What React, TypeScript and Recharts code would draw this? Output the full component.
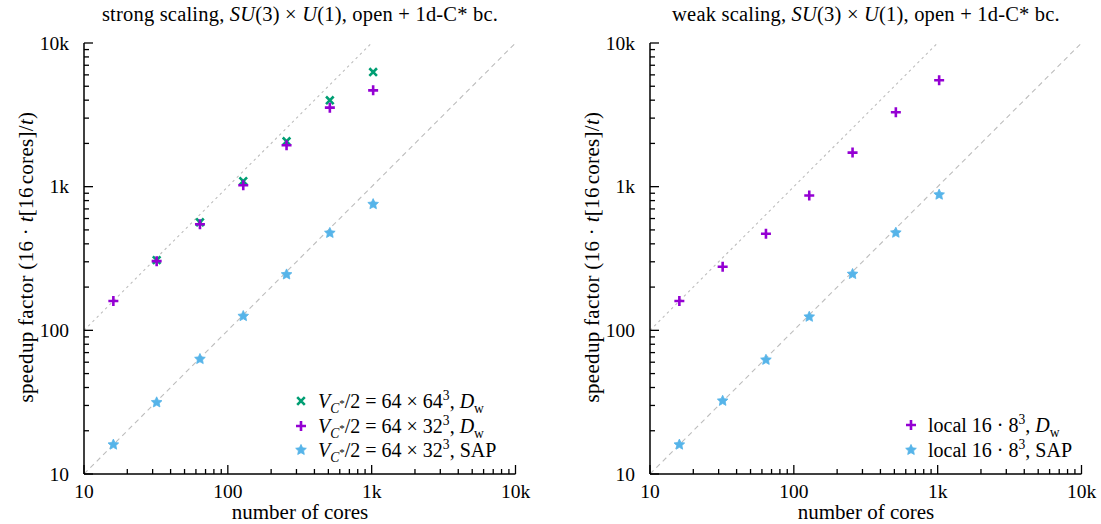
import React from 'react';
import { ScatterChart, Scatter, XAxis, YAxis, ReferenceLine } from 'recharts';

// ---------- data ----------
const cores = [16, 32, 64, 128, 256, 512, 1024];
const strongCores64 = [32, 64, 128, 256, 512, 1024];
const strongDw64 = [308, 565, 1091, 2069, 3990, 6280];
const strongDw32 = [160, 303, 548, 1023, 1940, 3548, 4680];
const strongSap32 = [16, 31.5, 63.1, 125.6, 244.7, 476, 755];
const weakDw = [160, 277, 470, 869, 1726, 3295, 5505];
const weakSap = [16, 32.3, 62.3, 124.2, 246.4, 477.6, 879];

const majorTicks = [10, 100, 1000, 10000];
const majorLabels = ['10', '100', '1k', '10k'];
const minorMultipliers = [2, 3, 4, 5, 6, 7, 8, 9];
const idealLowerX = [10, 10000];
const idealLowerY = [10, 10000];
const idealUpperX = [10, 1000];
const idealUpperY = [100, 10000];

const allTicks: number[] = [];
majorTicks.forEach((m, i) => {
  allTicks.push(m);
  if (i < majorTicks.length - 1) minorMultipliers.forEach((k) => allTicks.push(m * k));
});

const toPoints = (xs: number[], ys: number[]) => xs.map((x, i) => ({ x, y: ys[i] }));

// ---------- style ----------
const FONT = '"Liberation Serif", "DejaVu Serif", serif';
const GREEN = '#009e73';
const PURPLE = '#9400d3';
const CYAN = '#56b4e9';
const GRAY = '#bdbdbd';
const TICK_FS = 19.5;

const isMajor = (v: number) => majorTicks.indexOf(v);

const BottomTick = (p: any) => {
  const { x, y, payload } = p;
  const idx = isMajor(payload.value);
  const len = idx >= 0 ? 9 : 5;
  return (
    <g>
      <line x1={x} y1={y} x2={x} y2={y - len} stroke="#000" strokeWidth={1.3} />
      {idx >= 0 && (
        <text x={x} y={y + 24} textAnchor="middle" fontSize={TICK_FS} fontFamily={FONT} fill="#000">
          {majorLabels[idx]}
        </text>
      )}
    </g>
  );
};
const TopTick = (p: any) => {
  const { x, y, payload } = p;
  const len = isMajor(payload.value) >= 0 ? 9 : 5;
  return <line x1={x} y1={y} x2={x} y2={y + len} stroke="#000" strokeWidth={1.3} />;
};
const LeftTick = (p: any) => {
  const { x, y, payload } = p;
  const idx = isMajor(payload.value);
  const len = idx >= 0 ? 9 : 5;
  return (
    <g>
      <line x1={x} y1={y} x2={x + len} y2={y} stroke="#000" strokeWidth={1.3} />
      {idx >= 0 && (
        <text x={x - 15} y={y} dy="0.35em" textAnchor="end" fontSize={TICK_FS} fontFamily={FONT} fill="#000">
          {majorLabels[idx]}
        </text>
      )}
    </g>
  );
};
const RightTick = (p: any) => {
  const { x, y, payload } = p;
  const len = isMajor(payload.value) >= 0 ? 9 : 5;
  return <line x1={x} y1={y} x2={x - len} y2={y} stroke="#000" strokeWidth={1.3} />;
};

const PlusShape = (p: any) => {
  const { cx, cy } = p;
  return (
    <path d={`M${cx - 5},${cy}H${cx + 5}M${cx},${cy - 5}V${cy + 5}`} stroke={PURPLE} strokeWidth={2.6} fill="none" />
  );
};
const XShape = (p: any) => {
  const { cx, cy } = p;
  const r = 3.8;
  return (
    <path
      d={`M${cx - r},${cy - r}L${cx + r},${cy + r}M${cx - r},${cy + r}L${cx + r},${cy - r}`}
      stroke={GREEN}
      strokeWidth={2.6}
      fill="none"
    />
  );
};
const starPath = (cx: number, cy: number) => {
  const ro = 5.6;
  const ri = 2.7;
  let d = '';
  for (let i = 0; i < 10; i++) {
    const a = -Math.PI / 2 + (i * Math.PI) / 5;
    const r = i % 2 === 0 ? ro : ri;
    d += (i === 0 ? 'M' : 'L') + (cx + r * Math.cos(a)).toFixed(2) + ',' + (cy + r * Math.sin(a)).toFixed(2);
  }
  return d + 'Z';
};
const StarShape = (p: any) => <path d={starPath(p.cx, p.cy)} fill={CYAN} stroke={CYAN} strokeWidth={0.8} />;

const legendIcon = (kind: string) => {
  const s = kind === 'x' ? <XShape cx={8} cy={8} /> : kind === 'plus' ? <PlusShape cx={8} cy={8} /> : <StarShape cx={8} cy={8} />;
  return (
    <svg width={16} height={16} style={{ display: 'block' }}>
      {s}
    </svg>
  );
};

const supS: React.CSSProperties = { fontSize: '0.68em', verticalAlign: 'super', lineHeight: 0 };
const subS: React.CSSProperties = { fontSize: '0.68em', verticalAlign: 'sub', lineHeight: 0 };

type Series = { pts: { x: number; y: number }[]; shape: any; name: string };

const Panel = ({ series, left }: { series: Series[]; left: number }) => (
  <div style={{ position: 'absolute', left, top: 0 }}>
    <ScatterChart width={560} height={524} margin={{ top: 43, right: 44.5, bottom: 0, left: 0 }}>
      <XAxis
        dataKey="x"
        type="number"
        scale="log"
        domain={[10, 10000]}
        allowDataOverflow
        ticks={allTicks}
        interval={0}
        tickSize={0}
        tickMargin={0}
        tickLine={false}
        tick={<BottomTick />}
        axisLine={{ stroke: '#000', strokeWidth: 1.5 }}
        height={50}
      />
      <XAxis
        xAxisId="top"
        orientation="top"
        dataKey="x"
        type="number"
        scale="log"
        domain={[10, 10000]}
        allowDataOverflow
        ticks={allTicks}
        interval={0}
        tickSize={0}
        tickMargin={0}
        tickLine={false}
        tick={<TopTick />}
        axisLine={{ stroke: '#000', strokeWidth: 1.5 }}
        height={0}
      />
      <YAxis
        dataKey="y"
        type="number"
        scale="log"
        domain={[10, 10000]}
        allowDataOverflow
        ticks={allTicks}
        interval={0}
        tickSize={0}
        tickMargin={0}
        tickLine={false}
        tick={<LeftTick />}
        axisLine={{ stroke: '#000', strokeWidth: 1.5 }}
        width={84}
      />
      <YAxis
        yAxisId="right"
        orientation="right"
        dataKey="y"
        type="number"
        scale="log"
        domain={[10, 10000]}
        allowDataOverflow
        ticks={allTicks}
        interval={0}
        tickSize={0}
        tickMargin={0}
        tickLine={false}
        tick={<RightTick />}
        axisLine={{ stroke: '#000', strokeWidth: 1.5 }}
        width={0}
      />
      <ReferenceLine
        segment={toPoints(idealUpperX, idealUpperY)}
        stroke={GRAY}
        strokeWidth={1.1}
        strokeDasharray="2.5 3.5"
        ifOverflow="visible"
      />
      <ReferenceLine
        segment={toPoints(idealLowerX, idealLowerY)}
        stroke={GRAY}
        strokeWidth={1.1}
        strokeDasharray="5 4"
        ifOverflow="visible"
      />
      {series.map((s) => (
        <Scatter key={s.name} name={s.name} data={s.pts} shape={s.shape} isAnimationActive={false} />
      ))}
    </ScatterChart>
  </div>
);

const textBase: React.CSSProperties = { position: 'absolute', fontFamily: FONT, color: '#000', whiteSpace: 'nowrap' };

const Title = ({ cx, children }: { cx: number; children: React.ReactNode }) => (
  <div style={{ ...textBase, left: cx - 300, width: 600, top: 3, fontSize: 20.5, textAlign: 'center', letterSpacing: 0.2 }}>
    {children}
  </div>
);
const XLabel = ({ cx }: { cx: number }) => (
  <div style={{ ...textBase, left: cx - 200, width: 400, top: 500, fontSize: 21, textAlign: 'center' }}>number of cores</div>
);
const YLabel = ({ cx }: { cx: number }) => (
  <div
    style={{
      ...textBase,
      left: cx - 220,
      width: 440,
      top: 257 - 13,
      height: 26,
      lineHeight: '26px',
      fontSize: 21,
      textAlign: 'center',
      transform: 'rotate(-90deg)',
      letterSpacing: 0.3,
    }}
  >
    speedup factor (16 · <i>t</i>[16<span style={{ marginLeft: 3 }}>cores</span>]/<i>t</i>)
  </div>
);

const LegendBox = ({ left, top, rows }: { left: number; top: number; rows: { icon: string; label: React.ReactNode }[] }) => (
  <div style={{ ...textBase, left, top, fontSize: 20 }}>
    {rows.map((r, i) => (
      <div key={i} style={{ display: 'flex', alignItems: 'center', height: 24.5 }}>
        <div style={{ width: 16, marginRight: 9 }}>{legendIcon(r.icon)}</div>
        <div style={{ lineHeight: '24px' }}>{r.label}</div>
      </div>
    ))}
  </div>
);

const vc = (
  <>
    <i>V</i>
    <span style={subS}>
      <i>C</i>
      <span style={{ fontSize: '0.8em', verticalAlign: 'super' }}>*</span>
    </span>
    /2 = 64 ×{' '}
  </>
);

export default function App() {
  const strongSeries: Series[] = [
    { name: 'g', pts: toPoints(strongCores64, strongDw64), shape: XShape },
    { name: 'p', pts: toPoints(cores, strongDw32), shape: PlusShape },
    { name: 'c', pts: toPoints(cores, strongSap32), shape: StarShape },
  ];
  const weakSeries: Series[] = [
    { name: 'p', pts: toPoints(cores, weakDw), shape: PlusShape },
    { name: 'c', pts: toPoints(cores, weakSap), shape: StarShape },
  ];
  return (
    <div style={{ position: 'absolute', left: 0, top: 0, width: 1101, height: 524, background: '#fff', overflow: 'hidden' }}>
      <Panel series={strongSeries} left={0} />
      <Panel series={weakSeries} left={566} />
      <Title cx={300}>
        strong scaling, <i>SU</i>(3) × <i>U</i>(1), open + 1d-C* bc.
      </Title>
      <Title cx={866}>
        weak scaling, <i>SU</i>(3) × <i>U</i>(1), open + 1d-C* bc.
      </Title>
      <XLabel cx={300} />
      <XLabel cx={866} />
      <YLabel cx={26} />
      <YLabel cx={592} />
      <LegendBox
        left={293}
        top={389}
        rows={[
          {
            icon: 'x',
            label: (
              <>
                {vc}64<span style={supS}>3</span>, <i>D</i>
                <span style={subS}>w</span>
              </>
            ),
          },
          {
            icon: 'plus',
            label: (
              <>
                {vc}32<span style={supS}>3</span>, <i>D</i>
                <span style={subS}>w</span>
              </>
            ),
          },
          {
            icon: 'star',
            label: (
              <>
                {vc}32<span style={supS}>3</span>, SAP
              </>
            ),
          },
        ]}
      />
      <LegendBox
        left={903}
        top={413}
        rows={[
          {
            icon: 'plus',
            label: (
              <>
                local 16 · 8<span style={supS}>3</span>, <i>D</i>
                <span style={subS}>w</span>
              </>
            ),
          },
          {
            icon: 'star',
            label: (
              <>
                local 16 · 8<span style={supS}>3</span>, SAP
              </>
            ),
          },
        ]}
      />
    </div>
  );
}
